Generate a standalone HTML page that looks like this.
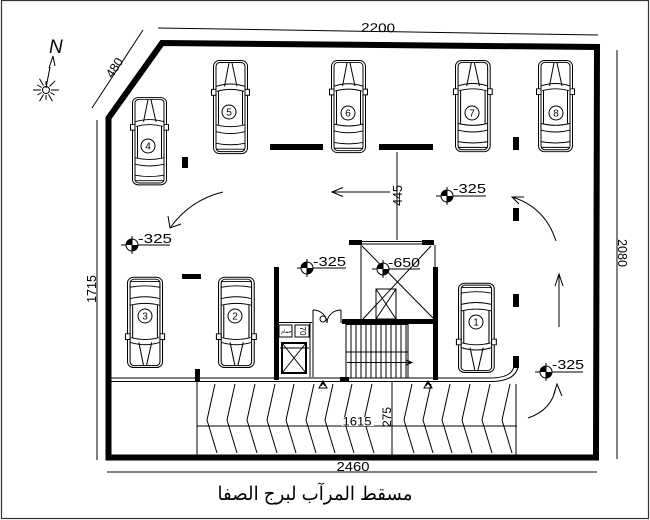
<!DOCTYPE html>
<html><head><meta charset="utf-8">
<style>
html,body{margin:0;padding:0;background:#fff;}
svg{display:block;}
text{font-family:"Liberation Sans",sans-serif;fill:#000;}
</style></head><body>
<svg width="650" height="520" viewBox="0 0 650 520" xmlns="http://www.w3.org/2000/svg">
<defs>
<g id="car" fill="none" stroke="#000" stroke-width="1">
 <rect x="0.5" y="0.5" width="34" height="95" rx="6" fill="#fff"/>
 <rect x="3" y="2.5" width="29" height="91" rx="4"/>
 <path d="M16,3 L11.5,27 M19,3 L24,27"/>
 <path d="M3,27 Q17.5,22 32,27 M4,32 Q17.5,28 31,32"/>
 <path d="M-1.5,30 h4.5 v6 h-4.5z M32,30 h4.5 v6 h-4.5z" fill="#fff"/>
 <path d="M5.5,32 L5.5,66 M29.5,32 L29.5,66"/>
 <path d="M3,66 Q17.5,70 32,66 M3,73 Q17.5,77 32,73"/>
 <path d="M3,85 Q17.5,88 32,85 M3,91 L32,91"/>
</g>
<g id="lv">
  <circle r="6" fill="#fff" stroke="#000"/>
  <path d="M0,0 L0,-6 A6,6 0 0 0 -6,0 Z M0,0 L0,6 A6,6 0 0 0 6,0 Z" fill="#000"/>
  <path d="M0,-9 V9" stroke="#000"/>
</g>
</defs>

<!-- outer frame -->
<rect x="1.5" y="0.5" width="647" height="518" fill="none" stroke="#333" stroke-width="1.2"/>

<!-- compass -->
<text x="49" y="53" font-family="Liberation Serif" font-style="italic" font-size="19">N</text>
<g stroke="#000" stroke-width="1" fill="none">
 <path d="M53,56 L49,68 M53,56 L55,66 M50,67 L46,88"/>
 <circle cx="46" cy="90" r="3.5"/>
 <g transform="translate(46,90)">
  <path d="M5,0H13" transform="rotate(0)"/>
  <path d="M5,0H10" transform="rotate(30)"/>
  <path d="M5,0H13" transform="rotate(60)"/>
  <path d="M5,0H10" transform="rotate(90)"/>
  <path d="M5,0H13" transform="rotate(120)"/>
  <path d="M5,0H10" transform="rotate(150)"/>
  <path d="M5,0H13" transform="rotate(180)"/>
  <path d="M5,0H10" transform="rotate(210)"/>
  <path d="M5,0H13" transform="rotate(240)"/>
  <path d="M5,0H9" transform="rotate(270)"/>
  <path d="M5,0H13" transform="rotate(315)"/>
 </g>
</g>

<!-- dimension lines -->
<g stroke="#000" stroke-width="1" fill="none">
 <path d="M158,28 L598,35"/>
 <path d="M143,30 L92,108"/>
 <path d="M97,120 L97,460"/>
 <path d="M617,50 L617,459"/>
 <path d="M107,472 L597,472"/>
</g>
<text x="378" y="32" font-size="12.5" text-anchor="middle" textLength="34" lengthAdjust="spacingAndGlyphs" transform="rotate(1 378 30)">2200</text>
<text x="0" y="0" font-size="12.5" text-anchor="middle" transform="translate(118,70) rotate(-57)">480</text>
<text x="0" y="0" font-size="12.5" text-anchor="middle" transform="translate(96,289) rotate(-90)">1715</text>
<text x="0" y="0" font-size="12.5" text-anchor="middle" transform="translate(618,253) rotate(90)">2080</text>
<text x="353" y="471" font-size="12.5" text-anchor="middle" textLength="33" lengthAdjust="spacingAndGlyphs">2460</text>

<!-- building outline -->
<path d="M162,43 L597,47 L596,457.5 L108.5,457.5 L108.5,118 Z" fill="none" stroke="#000" stroke-width="6" stroke-linejoin="miter"/>

<!-- wall pieces -->
<g fill="#000">
 <rect x="270" y="144" width="53" height="6"/>
 <rect x="379" y="144" width="54" height="6"/>
 <rect x="182" y="157" width="6" height="11"/>
 <rect x="182" y="274" width="19" height="5"/>
 <rect x="195" y="369" width="5" height="12"/>
 <rect x="274" y="267" width="5" height="113"/>
 <rect x="433" y="267" width="5" height="113"/>
 <rect x="349" y="240" width="13" height="5"/>
 <rect x="422" y="240" width="12" height="5"/>
 <rect x="342" y="319" width="96" height="5"/>
 <rect x="340" y="377" width="9" height="4"/>
 <rect x="513" y="137" width="6" height="13"/>
 <rect x="513" y="208" width="6" height="13"/>
 <rect x="513" y="294" width="6" height="13"/>
 <rect x="513" y="356" width="6" height="12"/>
</g>

<!-- cars -->
<use href="#car" transform="translate(132,97) scale(1,0.92)"/>
<use href="#car" transform="translate(213,60) scale(1,0.98)"/>
<use href="#car" transform="translate(331,60) scale(1,0.97)"/>
<use href="#car" transform="translate(455,60) scale(1.02,0.96)"/>
<use href="#car" transform="translate(538,60) scale(1,0.96)"/>
<use href="#car" transform="translate(127,368) scale(1.03,-0.95)"/>
<use href="#car" transform="translate(218,368) scale(1.05,-0.95)"/>
<use href="#car" transform="translate(458,373) scale(1.05,-0.94)"/>
<g fill="#fff" stroke="#000" stroke-width="1">
 <circle cx="148" cy="146" r="7"/>
 <circle cx="229" cy="112" r="7"/>
 <circle cx="348" cy="113" r="7"/>
 <circle cx="472" cy="113" r="7"/>
 <circle cx="556" cy="113" r="7"/>
 <circle cx="145" cy="316" r="7"/>
 <circle cx="235" cy="316" r="7"/>
 <circle cx="476" cy="322" r="7"/>
</g>
<g font-size="10" text-anchor="middle">
 <text x="148" y="149.5">4</text>
 <text x="229" y="115.5">5</text>
 <text x="348" y="116.5">6</text>
 <text x="472" y="116.5">7</text>
 <text x="556" y="116.5">8</text>
 <text x="145" y="319.5">3</text>
 <text x="235" y="319.5">2</text>
 <text x="476" y="325.5">1</text>
</g>

<!-- core -->
<g stroke="#000" stroke-width="1" fill="none">
 <path d="M362,241.5 H422 M362,244 H422"/>
 <path d="M361,245 V319 M435,245 V267"/>
 <path d="M362,246 L433,318 M431,246 L363,319"/>
 <rect x="376" y="289" width="20" height="30"/>
 <path d="M376,289 L396,319 M396,289 L376,319"/>
 <!-- stairs -->
 <path d="M346,324.5 H408 M346,352 H408 M408,324 V378"/>
 <path d="M346,324V378 M351,324V378 M356,324V378 M361,324V378 M366,324V378 M371,324V378 M376,324V378 M381,324V378 M386,324V378 M391,324V378 M396,324V378 M401,324V378 M406,324V378"/>
 <path d="M347,362.5 H412 M406,360 L412,362.5 L406,365"/>
 <!-- left small rooms -->
 <path d="M279,322.5 H312 M310,322 V377 M313,322 V377"/>
 <rect x="279" y="325" width="13" height="12"/>
 <rect x="295" y="325" width="14" height="12"/>
 <rect x="282" y="343" width="24" height="30" stroke-width="2"/>
 <path d="M282,343 L306,373 M306,343 L282,373 M280,348 H309"/>
 <!-- door -->
 <path d="M313,310 V323 M313,310 A14,13 0 0 1 327,323 M341,310 V323 M341,310 A14,13 0 0 0 327,323"/>
 <circle cx="323" cy="319" r="3"/>
</g>
<text x="0" y="0" font-size="8" transform="translate(300,331) rotate(90)" text-anchor="middle">70</text>
<text x="281" y="333" font-size="5">ﺣﻤﺎﻡ</text>

<!-- ramp -->
<g stroke="#000" stroke-width="1" fill="none">
 <path d="M107,378 H490 Q512,378 514,366"/>
 <path d="M107,381.5 H490 Q516,381.5 518,366"/>
 <path d="M197,381 V456 M516,384 V456"/>
 <path d="M197,426 H517 M392,381 V456"/>
 <path d="M215,384 L207,420 L217,453 M235,384 L227,420 L237,453 M255,384 L247,420 L257,453 M275,384 L267,420 L277,453 M294,384 L286,420 L296,453 M314,384 L306,420 L316,453 M333,384 L325,420 L335,453 M352,384 L344,420 L354,453 M372,384 L364,420 L374,453 M412,384 L404,420 L414,453 M431,384 L423,420 L433,453 M450,384 L442,420 L452,453 M470,384 L462,420 L472,453 M490,384 L482,420 L492,453 M510,384 L502,420 L512,453"/>
 <path d="M319,388 L323,381 L327,388 Z M321,386 L323,383 L325,386"/>
 <path d="M424,388 L428,381 L432,388 Z M426,386 L428,383 L430,386"/>
</g>
<rect x="342" y="417" width="32" height="9" fill="#fff"/>
<text x="357" y="425.5" font-size="12" text-anchor="middle" textLength="29" lengthAdjust="spacingAndGlyphs">1615</text>
<text x="0" y="0" font-size="12" text-anchor="middle" transform="translate(391,417) rotate(-90)">275</text>

<!-- arrows -->
<g stroke="#000" stroke-width="1" fill="none">
 <path d="M390,192 H332 M343,187.5 L332,192 L343,196.5"/>
 <path d="M397,152 V240"/>
 <path d="M223,192 Q190,200 170,228 M168,216 L170,228 L181,224"/>
 <path d="M556,241 Q545,207 512,197 M524,197 L512,197 L519,204"/>
 <path d="M559,327 V274 M555,286 L559,274 L563,286"/>
 <path d="M528,418 Q552,410 556,387 M553,397 L557,384 L562,396"/>
</g>
<text x="0" y="0" font-size="12.5" text-anchor="middle" transform="translate(402,195.5) rotate(-90)">445</text>

<!-- level marks -->
<g stroke="#000" stroke-width="1">
 <path d="M121,245 H170"/>
 <path d="M436,196 H486"/>
 <path d="M297,268 H346"/>
 <path d="M372,269 H420"/>
 <path d="M535,372 H583"/>
</g>
<use href="#lv" transform="translate(132,245)"/>
<use href="#lv" transform="translate(447,196)"/>
<use href="#lv" transform="translate(307,268)"/>
<use href="#lv" transform="translate(383,269)"/>
<use href="#lv" transform="translate(546,372)"/>
<g font-size="13">
 <text x="138" y="243" textLength="34" lengthAdjust="spacingAndGlyphs">-325</text>
 <text x="453" y="193" textLength="33" lengthAdjust="spacingAndGlyphs">-325</text>
 <text x="313" y="266" textLength="33" lengthAdjust="spacingAndGlyphs">-325</text>
 <text x="388" y="267" textLength="32" lengthAdjust="spacingAndGlyphs">-650</text>
 <text x="552" y="369" textLength="32" lengthAdjust="spacingAndGlyphs">-325</text>
</g>

<!-- title -->
<text x="315" y="500" font-family="DejaVu Sans, Noto Sans CJK SC, sans-serif" font-size="19" text-anchor="middle" textLength="195" lengthAdjust="spacingAndGlyphs">مسقط المرآب لبرج الصفا</text>
</svg>
</body></html>
